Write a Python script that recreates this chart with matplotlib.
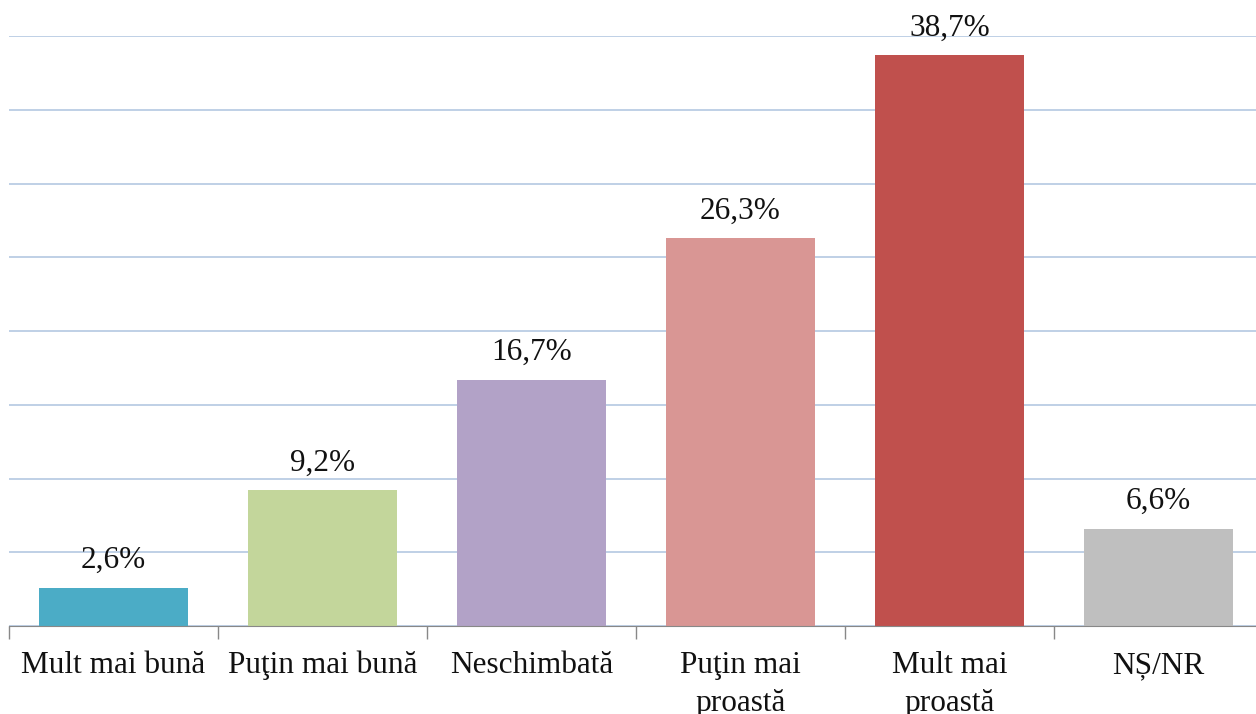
import matplotlib.pyplot as plt
import numpy as np

categories = ["Mult mai bună", "Puţin mai bună", "Neschimbată",
              "Puţin mai\nproastă", "Mult mai\nproastă", "NȘ/NR"]
values = [2.6, 9.2, 16.7, 26.3, 38.7, 6.6]
value_labels = ["2,6%", "9,2%", "16,7%", "26,3%", "38,7%", "6,6%"]
colors = ["#4bacc6", "#c3d69b", "#b2a2c7", "#d99694", "#c0504d", "#bfbfbf"]

plt.rcParams['font.family'] = ['Liberation Serif', 'DejaVu Serif']

fig = plt.figure(figsize=(12.56, 7.14), dpi=100)
ax = fig.add_axes([9 / 1256, 1 - 626 / 714, 1254 / 1256, 590 / 714])

x = np.arange(len(categories))
ax.bar(x, values, width=0.713, color=colors, zorder=3)

for xi, v, lab in zip(x, values, value_labels):
    ax.annotate(lab, (xi, v), xytext=(0, 9), textcoords='offset points',
                ha='center', va='bottom', fontsize=22.5, color='#111111')

ax.set_xlim(-0.5, len(categories) - 0.5)
ax.set_ylim(0, 40)
ax.set_yticks(np.arange(0, 41, 5))
ax.yaxis.grid(True, color='#b4c8e2', linewidth=1.2, zorder=0)
ax.tick_params(axis='y', left=False, labelleft=False)

ax.set_xticks(x)
ax.set_xticklabels(categories, fontsize=22.5, color='#111111', linespacing=1.4)
ax.set_xticks(np.arange(-0.5, len(categories), 1), minor=True)
ax.tick_params(axis='x', which='major', length=0, pad=18)
ax.tick_params(axis='x', which='minor', length=9, color='#888888', width=1)

for s in ['top', 'right', 'left']:
    ax.spines[s].set_visible(False)
ax.spines['bottom'].set_color('#888888')
ax.spines['bottom'].set_zorder(4)

fig.savefig('out.png', dpi=100)
